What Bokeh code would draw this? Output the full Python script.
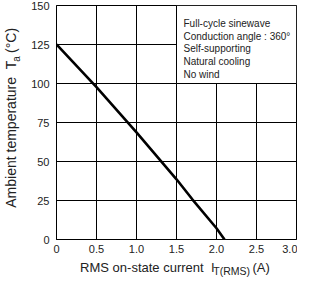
from bokeh.plotting import figure
from bokeh.models import Label, FixedTicker, Range1d, LinearAxis
from bokeh.embed import file_html
from bokeh.resources import INLINE

# Data
current_a = [0.0, 0.5, 1.0, 1.5, 1.7, 2.0, 2.1]
temp_c = [125.0, 97.7, 68.7, 38.6, 25.6, 7.2, 0.0]
x_ticks = [0, 0.5, 1.0, 1.5, 2.0, 2.5, 3.0]
x_tick_labels = ["0", "0.5", "1.0", "1.5", "2.0", "2.5", "3.0"]
y_ticks = [0, 25, 50, 75, 100, 125, 150]
notes = ["Full-cycle sinewave", "Conduction angle : 360°", "Self-supporting",
         "Natural cooling", "No wind"]
x_title_parts = ["RMS on-state current \u00a0I", "(A)"]
x_title_sub = "T(RMS)"
y_title_parts = ["Ambient temperature \u00a0T", "(°C)"]
y_title_sub = "a"

FONT = "Liberation Sans"
TXT = "#222222"

p = figure(width=297, height=279, output_backend="svg", toolbar_location=None,
           x_range=Range1d(0, 3), y_range=Range1d(0, 150),
           min_border_left=52, min_border_right=1, min_border_top=5,
           min_border_bottom=38)
p.outline_line_color = "black"
p.outline_line_width = 1
p.background_fill_color = "white"
p.border_fill_color = "white"

for ax in (p.xaxis[0], p.yaxis[0]):
    ax.major_tick_line_color = None
    ax.minor_tick_line_color = None
    ax.major_tick_out = 0
    ax.major_tick_in = 0
    ax.minor_tick_out = 0
    ax.axis_line_color = "black"
    ax.major_label_text_font = FONT
    ax.major_label_text_font_size = "11px"
    ax.major_label_text_color = TXT
p.xaxis[0].ticker = FixedTicker(ticks=x_ticks)
p.xaxis[0].major_label_overrides = {t: l for t, l in zip(x_ticks, x_tick_labels)}
p.xaxis[0].major_label_standoff = 5
p.yaxis[0].ticker = FixedTicker(ticks=y_ticks)
p.yaxis[0].major_label_standoff = 7

p.xgrid.ticker = FixedTicker(ticks=x_ticks)
p.ygrid.ticker = FixedTicker(ticks=y_ticks)
for g in (p.xgrid[0], p.ygrid[0]):
    g.grid_line_color = "black"
    g.grid_line_alpha = 1
    g.grid_line_width = 1

# notes box
p.quad(left=[1.5], right=[3.0], bottom=[100], top=[150],
       fill_color="white", line_color="black", line_width=1)

p.line(current_a, temp_c, line_color="black", line_width=2.6)

for i, t in enumerate(notes):
    p.add_layout(Label(x=1.5, y=150, x_offset=7, y_offset=-(18 + 12.7 * i),
                       text=t, text_font=FONT, text_font_size="10px",
                       text_color=TXT, text_baseline="middle", text_align="left"))


def title_axis(side, positions, labels, size, standoff, vertical=False):
    ax = LinearAxis(ticker=FixedTicker(ticks=positions),
                    major_label_overrides={pp: l for pp, l in zip(positions, labels)})
    ax.axis_line_color = None
    ax.major_tick_line_color = None
    ax.minor_tick_line_color = None
    ax.major_tick_out = 0
    ax.major_tick_in = 0
    ax.minor_tick_out = 0
    ax.major_label_text_font = FONT
    ax.major_label_text_font_size = size
    ax.major_label_text_color = TXT
    ax.major_label_standoff = standoff
    if vertical:
        ax.major_label_orientation = "vertical"
    p.add_layout(ax, side)


# X axis title (main words, then subscript lowered slightly)
title_axis("below", [1.135, 2.557], x_title_parts, "13px", 4)
title_axis("below", [2.189], [x_title_sub], "10.5px", -13)

# Y axis title (subscript panel nearer the frame, main words outside)
title_axis("left", [115.8], [y_title_sub], "10px", 6, vertical=True)
title_axis("left", [67.5, 127.6], y_title_parts, "14px", -11, vertical=True)

open("out.html", "w").write(file_html(p, INLINE))
